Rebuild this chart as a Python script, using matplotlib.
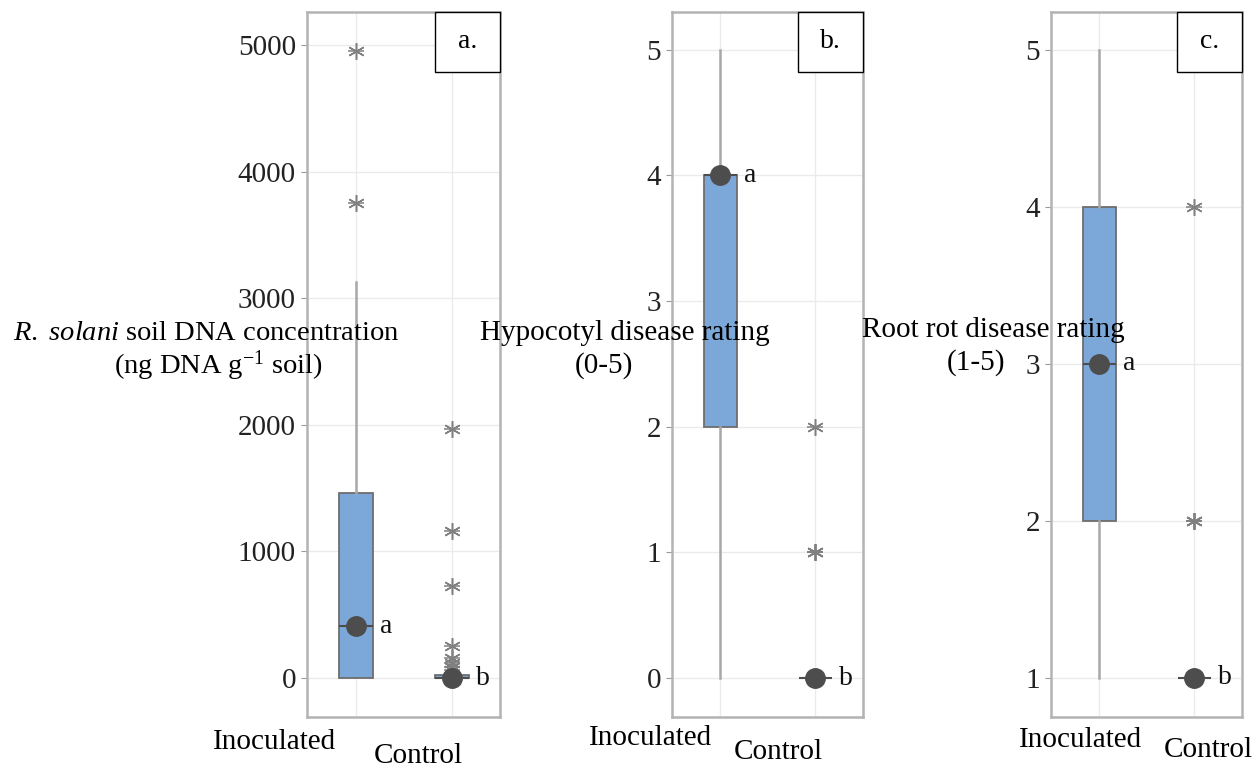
import numpy as np
import matplotlib
matplotlib.use('Agg')
import matplotlib.pyplot as plt
from matplotlib.patches import Rectangle

plt.rcParams['font.family'] = ['Liberation Serif', 'DejaVu Serif']
plt.rcParams['mathtext.fontset'] = 'custom'
plt.rcParams['mathtext.rm'] = 'Liberation Serif'
plt.rcParams['mathtext.it'] = 'Liberation Serif:italic'

groups = ['Inoculated', 'Control']

# ==== panel a: R. solani soil DNA (ng DNA g-1 soil) ====
a_med = [410, 0]
a_q1 = [0, 0]
a_q3 = [1460, 25]
a_lo = [0, 0]
a_hi = [3130, 40]
a_fliers = [[3750, 4950], [1970, 1160, 730, 250, 160, 120, 90, 60]]
a_letters = ['a', 'b']

# ==== panel b: hypocotyl disease rating (0-5) ====
b_med = [4, 0]
b_q1 = [2, 0]
b_q3 = [4, 0]
b_lo = [0, 0]
b_hi = [5, 0]
b_fliers = [[], [1, 1, 1, 2]]
b_letters = ['a', 'b']

# ==== panel c: root rot disease rating (1-5) ====
c_med = [3, 1]
c_q1 = [2, 1]
c_q3 = [4, 1]
c_lo = [1, 1]
c_hi = [5, 1]
c_fliers = [[], [2, 2, 2, 4]]
c_letters = ['a', 'b']

panels = [
    dict(med=a_med, q1=a_q1, q3=a_q3, lo=a_lo, hi=a_hi, fl=a_fliers,
         let=a_letters, tag='a.', ylim=(-308, 5260), ticks=[0, 1000, 2000, 3000, 4000, 5000],
         pos=[307, 500]),
    dict(med=b_med, q1=b_q1, q3=b_q3, lo=b_lo, hi=b_hi, fl=b_fliers,
         let=b_letters, tag='b.', ylim=(-0.31, 5.30), ticks=[0, 1, 2, 3, 4, 5],
         pos=[672, 863]),
    dict(med=c_med, q1=c_q1, q3=c_q3, lo=c_lo, hi=c_hi, fl=c_fliers,
         let=c_letters, tag='c.', ylim=(0.75, 5.24), ticks=[1, 2, 3, 4, 5],
         pos=[1051, 1242]),
]

W, H = 1256, 769
fig = plt.figure(figsize=(W / 100, H / 100), dpi=100)

box_col = '#7BA7D9'
dark = '#4D4D4D'
frame_col = '#B3B3B3'
star = (6, 2, 0)

for p in panels:
    x0, x1 = p['pos']
    ax = fig.add_axes([x0 / W, 1 - 717 / H, (x1 - x0) / W, 705 / H])
    stats = []
    for i in range(2):
        stats.append(dict(med=p['med'][i], q1=p['q1'][i], q3=p['q3'][i],
                          whislo=p['lo'][i], whishi=p['hi'][i], fliers=[]))
    ax.bxp(stats, positions=[1, 2], widths=0.35, patch_artist=True,
           showcaps=False, showfliers=False,
           boxprops=dict(facecolor=box_col, edgecolor='#6E6E6E', linewidth=1.3),
           whiskerprops=dict(color='#A8A8A8', linewidth=1.8),
           medianprops=dict(color=dark, linewidth=1.5), zorder=2)
    for i in range(2):
        fl = p['fl'][i]
        if fl:
            ax.plot([i + 1] * len(fl), fl, linestyle='none', marker=star,
                    markersize=12, markeredgecolor='#808080', markeredgewidth=1.1, zorder=3)
            ax.plot([i + 1] * len(fl), fl, linestyle='none', marker='_',
                    markersize=12, markeredgecolor='#808080', markeredgewidth=1.1, zorder=3)
    ax.plot([1, 2], p['med'], linestyle='none', marker='o', markersize=14,
            color=dark, zorder=4)
    for i in range(2):
        ax.annotate(p['let'][i], (i + 1, p['med'][i]), xytext=(17, 0),
                    textcoords='offset points', fontsize=20, va='center', color='#111111')

    ax.set_xlim(0.49, 2.5)
    ax.set_ylim(*p['ylim'])
    ax.set_yticks(p['ticks'])
    ax.set_xticks([1, 2])
    ax.set_xticklabels([])
    ax.tick_params(axis='y', labelsize=21, length=4, color='#999999', labelcolor='#222222', pad=4)
    ax.tick_params(axis='x', length=0)
    ax.grid(True, color='#EBEBEB', linewidth=1)
    ax.set_axisbelow(True)
    for s in ax.spines.values():
        s.set_color(frame_col)
        s.set_linewidth(1.8)

    bw = 65 / (x1 - x0)
    ax.add_patch(Rectangle((1 - bw, 1 - 60 / 705), bw, 60 / 705, transform=ax.transAxes,
                           facecolor='white', edgecolor='black', linewidth=1, zorder=5,
                           clip_on=False))
    ax.text(1 - bw / 2, 1 - 30 / 705, p['tag'], transform=ax.transAxes, fontsize=20,
            ha='center', va='center', zorder=6)


def ftext(x, y, s, size=21, **kw):
    fig.text(x / W, 1 - y / H, s, fontsize=size, ha='center', va='center', **kw)


# y axis titles
ftext(206, 333, r'$\mathit{R.\ solani}$ soil DNA concentration', size=20.5)
ftext(218, 366, r'(ng DNA g$^{\mathregular{-1}}$ soil)', size=20.5)
ftext(625, 333, 'Hypocotyl disease rating')
ftext(604, 366, '(0-5)')
ftext(993, 330, 'Root rot disease rating')
ftext(976, 363, '(1-5)')

# category labels
for xi, xc, yi, yc in [(275, 418, 742, 756), (650, 778, 738, 752), (1080, 1208, 740, 750)]:
    ftext(xi, yi, groups[0])
    ftext(xc, yc, groups[1])

fig.savefig('out.png', dpi=100)
